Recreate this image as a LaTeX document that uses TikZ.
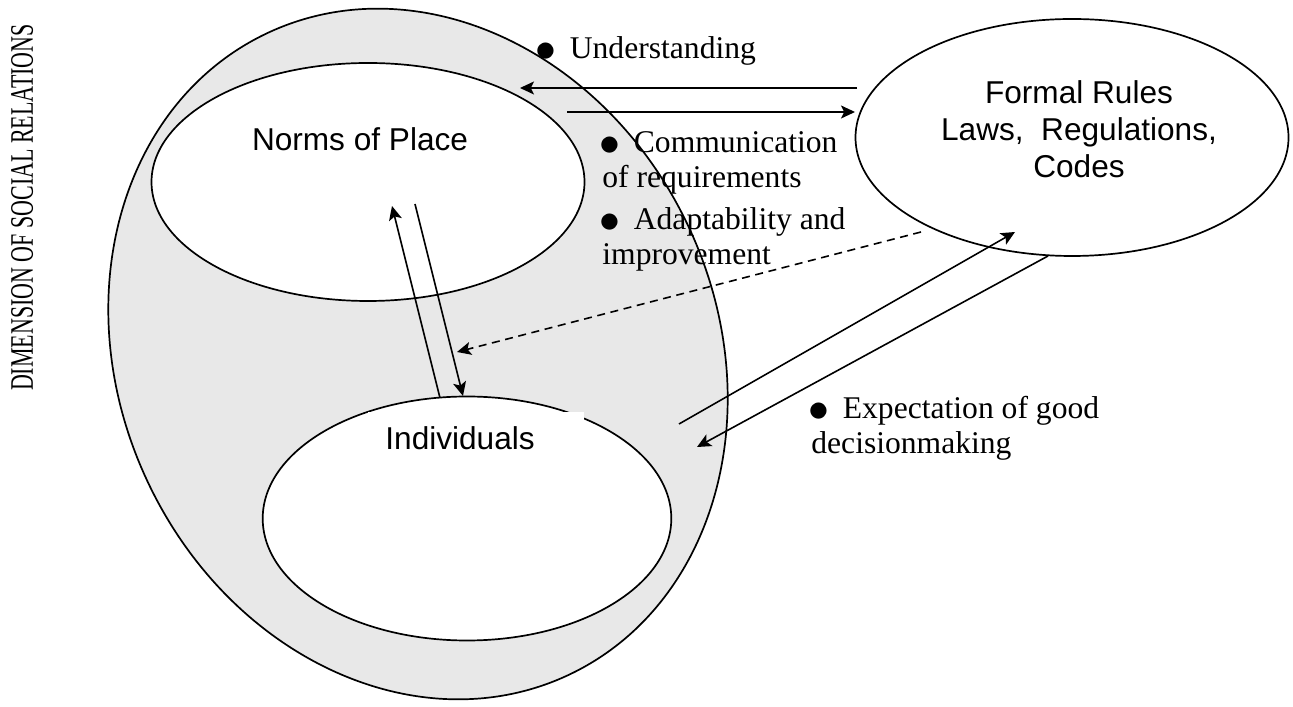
\documentclass[tikz,border=0pt]{standalone}
\usepackage{fontspec}
\setmainfont{Liberation Serif}
\setsansfont{Liberation Sans}
\usepackage{graphicx}
\usetikzlibrary{shapes.geometric,arrows.meta}
\definecolor{ringgray}{gray}{0.91}
\newcommand{\bul}{\raisebox{-1.5pt}{\scalebox{1.45}{$\bullet$}}\hspace{0.43em}}

\begin{document}
\begin{tikzpicture}[x=0.5pt,y=0.5pt,
  oval/.style={ellipse,draw,line width=0.85pt,fill=white,inner sep=0pt},
  link/.style={-{Stealth[length=7pt,width=6.5pt,inset=1.6pt]},line width=0.8pt},
  serif/.style={font=\fontsize{15.8}{17.5}\selectfont,inner sep=0pt},
  sans/.style={font=\sffamily\fontsize{15.8}{18.5}\selectfont,inner sep=0pt},
  note/.style={serif,anchor=north west,align=left}]
\useasboundingbox (0,0) rectangle (1293,706);
% ovals
\node[oval,fill=ringgray,minimum width=299pt,minimum height=354.5pt,rotate=25] (place) at (418,352) {};
\node[oval,minimum width=216.5pt,minimum height=119pt] (norms) at (368,524) {};
\node[oval,minimum width=204.3pt,minimum height=122pt] (indiv) at (467,187.5) {};
\node[oval,minimum width=216.5pt,minimum height=118.5pt] (formal) at (1072,568.5) {};
% labels
\node[sans,anchor=base] (normslabel) at (360,555) {Norms of Place};
\node[sans,anchor=north,align=center] (formallabel) at (1079,625.6) {Formal Rules\\Laws,\hspace{0.556em}Regulations,\\Codes};
\node[sans,anchor=north west,fill=white,inner xsep=8.5pt,inner ysep=7pt,text width=91pt] (indivlabel) at (368,294) {Individuals};
\node[serif,font=\fontsize{16.4}{18}\selectfont,rotate=90,anchor=base] (dimlabel) at (33,498.5) {\scalebox{0.67}[1]{DIMENSION OF SOCIAL RELATIONS}};
\node[note] (understand) at (535,669.6) {\bul Understanding};
\node[note] (communic) at (599,574.6) {\bul Communication\\\hspace*{1.5pt}of requirements\\[3.5pt]\bul Adaptability and\\\hspace*{1.5pt}improvement};
\node[note] (expect) at (808,310.6) {\bul Expectation of good\\\hspace*{1.5pt}decisionmaking};
% arrow ends
\coordinate (u1) at (857,618); \coordinate (u2) at (520,618);
\coordinate (c1) at (567,594); \coordinate (c2) at (855,594);
\coordinate (a1) at (921,474); \coordinate (a2) at (457,354);
\coordinate (n1) at (440,308); \coordinate (n2) at (392,500);
\coordinate (n3) at (415,502); \coordinate (n4) at (463,310);
\coordinate (e1) at (679,282); \coordinate (e2) at (1015,474);
\coordinate (e3) at (1048,450); \coordinate (e4) at (697,259);
\foreach \a/\b in {u1/u2,c1/c2,n1/n2,n3/n4,e1/e2,e3/e4}
\draw[link] (\a) -- (\b);
\draw[link,dash pattern=on 4pt off 2.8pt] (a1) -- (a2); % dashed one
\end{tikzpicture}
\end{document}
